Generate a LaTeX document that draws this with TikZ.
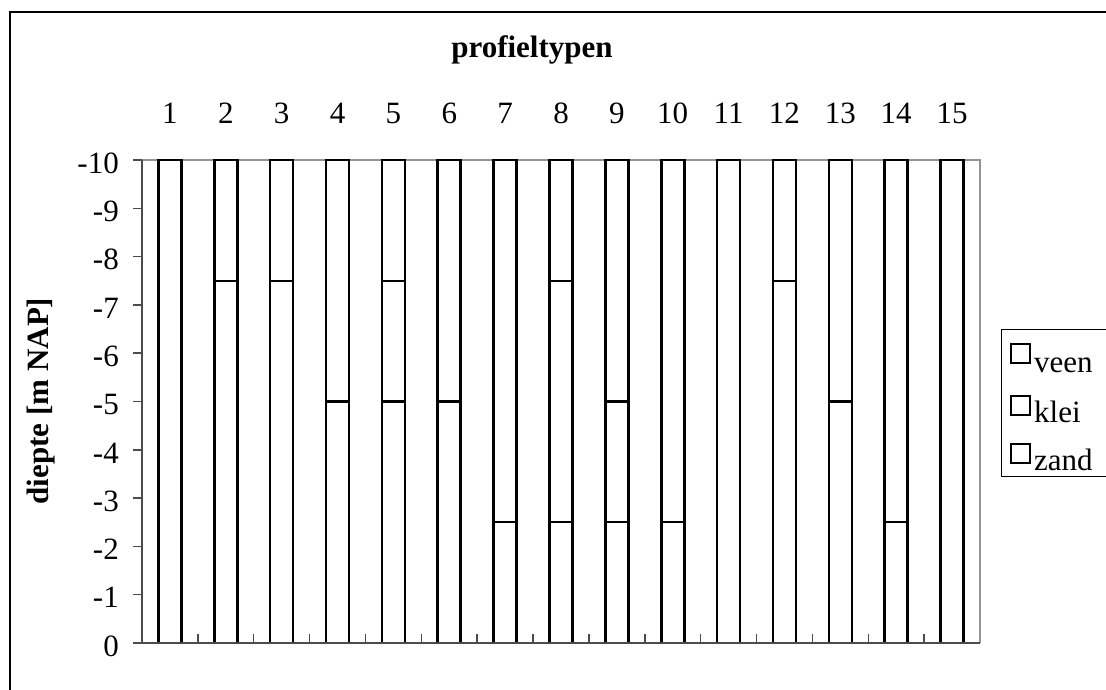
\documentclass[tikz,border=0pt]{standalone}
\usepackage{fontspec}
\setmainfont{Liberation Serif}
\begin{document}
\begin{tikzpicture}[x=1pt,y=-1pt,
  lbl/.style={font=\fontsize{31}{31}\selectfont, inner sep=0pt},
  bar/.style={draw=black, line width=2.6pt, fill=white},
  frame/.style={draw=gray!85, line width=2pt},
  axis/.style={draw=gray!60!black, line width=2pt},
  legsq/.style={draw=black, line width=2pt, minimum width=19pt, minimum height=19pt, inner sep=0pt}]
\useasboundingbox (0,0) rectangle (1106,689);
% outer border
\draw[line width=2pt] (10,700) -- (10,12) -- (1120,12);
% plot frame
\def\xl{142}\def\xr{980}\def\yt{160}\def\yb{643}
\coordinate (pTL) at (\xl,\yt);
\coordinate (pTR) at (\xr,\yt);
\coordinate (pBR) at (\xr,\yb);
\coordinate (pBL) at (\xl,\yb);
\draw[frame] (pTL) -- (pTR) -- (pBR);
% title
\node[lbl, font=\fontsize{31}{31}\selectfont\bfseries] (title) at (532,50) {profieltypen};
% y axis label
\node[lbl, font=\fontsize{31}{31}\selectfont\bfseries, rotate=90] (ylab) at (41,401) {diepte [m NAP]};
% y ticks & labels
\foreach \v in {0,...,10}{
  \pgfmathsetmacro{\yy}{\yb-48.3*\v}
  \draw[axis, line width=1.5pt] (133,\yy) -- (\xl,\yy);
  \ifnum\v=0
    \node[lbl, anchor=east] (yl\v) at (119,\yy+3) {0};
  \else
    \node[lbl, anchor=east] (yl\v) at (119,\yy+3) {-\v};
  \fi
}
% x ticks
\foreach \k in {1,...,14}{
  \pgfmathsetmacro{\xx}{\xl+55.867*\k}
  \draw[axis, line width=1.5pt] (\xx,\yb) -- (\xx,\yb-9);
}
% bars: index / list of divider depths
\foreach \i/\divs in {1/{},2/{7.5},3/{7.5},4/{5},5/{7.5,5},6/{5},7/{2.5},8/{7.5,2.5},9/{5,2.5},10/{2.5},11/{},12/{7.5},13/{5},14/{2.5},15/{}}{
  \pgfmathsetmacro{\xc}{\xl+55.867*(\i-0.5)}
  \node[lbl] (n\i) at (\xc,113) {\i};
  \draw[bar] (\xc-11.5,\yt) rectangle (\xc+11.5,\yb);
  \foreach \d in \divs {
    \pgfmathsetmacro{\yd}{\yb-48.3*\d}
    \draw[black, line width=2.2pt] (\xc-11.5,\yd) -- (\xc+11.5,\yd);
  }
}
% axes
\draw[axis] (pTL) -- (pBL) -- (pBR);
% legend
\draw[line width=1pt] (1001,329) rectangle (1120,476);
\node[legsq] (sq1) at (1020.5,353) {};
\node[legsq] (sq2) at (1020.5,405) {};
\node[legsq] (sq3) at (1020.5,453) {};
\node[lbl, anchor=base west] (t1) at (1034,372) {veen};
\node[lbl, anchor=base west] (t2) at (1034,422) {klei};
\node[lbl, anchor=base west] (t3) at (1034,470) {zand};
\end{tikzpicture}
\end{document}
